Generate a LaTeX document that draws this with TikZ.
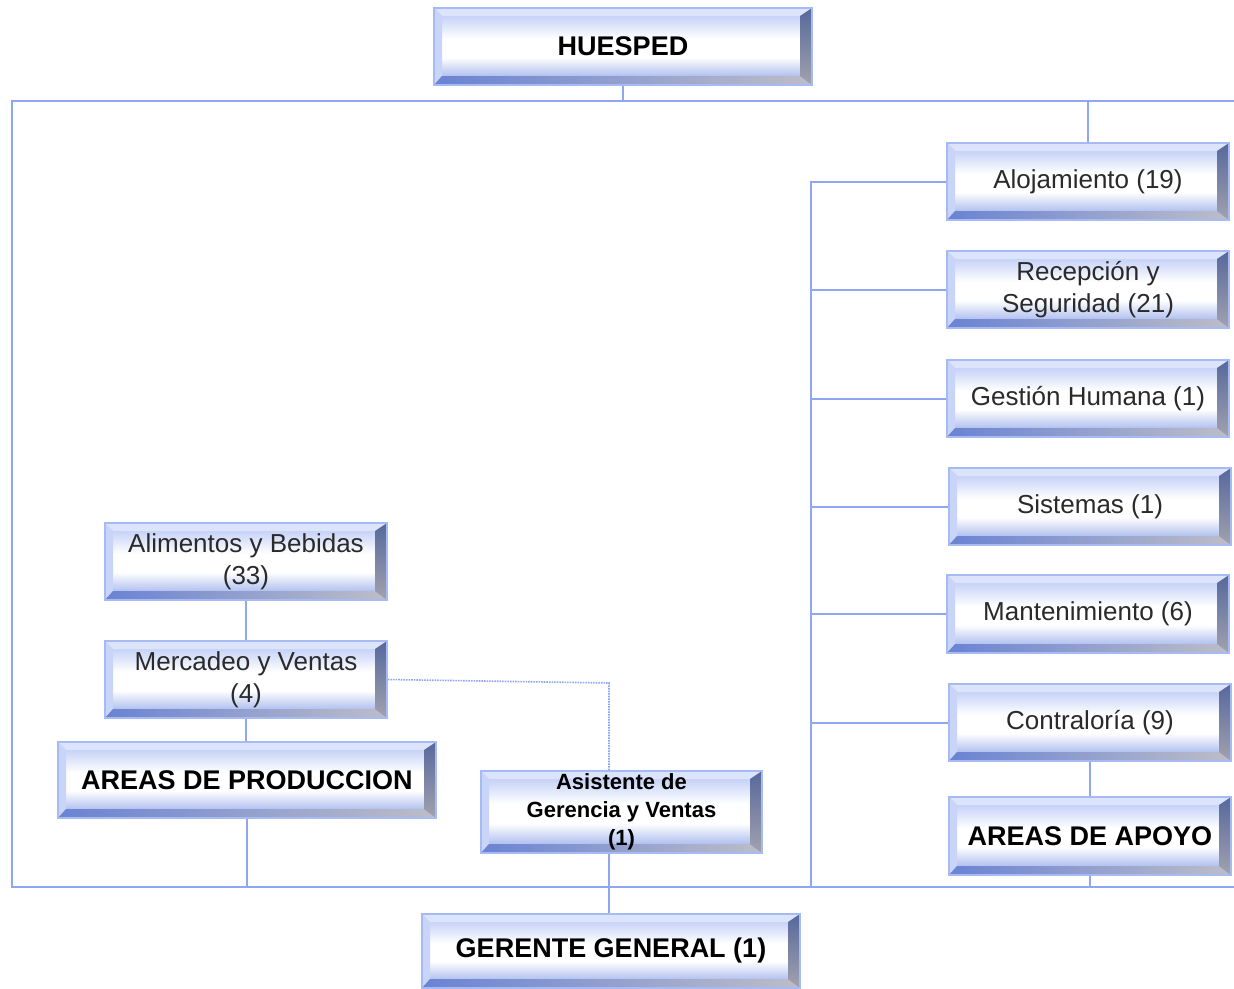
\documentclass[tikz,border=0pt]{standalone}
\usepackage{fontspec}
\setmainfont{Liberation Sans}
\usetikzlibrary{calc}
\definecolor{bord}{HTML}{A6BAF4}
\definecolor{ln}{HTML}{8FA7F2}
\definecolor{txt}{HTML}{2A2A2A}
\definecolor{faceT}{HTML}{B3C3F4}
\definecolor{faceB}{HTML}{8CA3E8}
\definecolor{bevT}{HTML}{DCE4FB}
\definecolor{bevL}{HTML}{C8D4F8}
\definecolor{bevBa}{HTML}{6A83D3}
\definecolor{bevBb}{HTML}{BDBDC8}
\definecolor{bevRa}{HTML}{56689C}
\definecolor{bevRb}{HTML}{A2A2AE}
\pgfdeclareverticalshading{facesh}{100bp}{color(0bp)=(faceB); color(25bp)=(faceB); color(43bp)=(white); color(55bp)=(white); color(75bp)=(faceT); color(100bp)=(faceT)}
\tikzset{
 bx/.style={draw=bord, line width=1.5pt, inner sep=0pt, align=center, text=txt,
  font=\fontsize{26}{32}\selectfont,
  path picture={
   \coordinate (pa) at (path picture bounding box.north west);
   \coordinate (pb) at (path picture bounding box.north east);
   \coordinate (pc) at (path picture bounding box.south east);
   \coordinate (pd) at (path picture bounding box.south west);
   \shade[shading=facesh] (pa) rectangle (pc);
   \fill[bevT] (pa) -- (pb) -- ($(pb)+(-12,8)$) -- ($(pa)+(8,8)$) -- cycle;
   \fill[bevL] (pa) -- ($(pa)+(8,8)$) -- ($(pd)+(8,-9)$) -- (pd) -- cycle;
   \shade[left color=bevBa, right color=bevBb] (pd) -- ($(pd)+(8,-9)$) -- ($(pc)+(-12,-9)$) -- (pc) -- cycle;
   \shade[top color=bevRa, bottom color=bevRb] (pb) -- (pc) -- ($(pc)+(-12,-9)$) -- ($(pb)+(-12,8)$) -- cycle;
  }},
 bxb/.style={bx, font=\bfseries\fontsize{27}{32}\selectfont, text=black},
 conn/.style={draw=ln, line width=2pt},
 dconn/.style={draw=ln, line width=1.6pt, densely dotted},
}
\begin{document}
\begin{tikzpicture}[x=1pt,y=-1pt]
\useasboundingbox (0,0) rectangle (1234,988);
% boxes
\node[bxb, minimum width=378pt, minimum height=77pt] (hue) at (623,46.5) {HUESPED};
\node[bx, minimum width=282pt, minimum height=77pt] (aloj) at (1088,181.5) {Alojamiento (19)};
\node[bx, minimum width=282pt, minimum height=77pt] (recep) at (1088,289.5) {Recepción y\\Seguridad (21)};
\node[bx, minimum width=282pt, minimum height=77pt] (gest) at (1088,398.5) {Gestión Humana (1)};
\node[bx, minimum width=282pt, minimum height=77pt] (sist) at (1090,506.5) {Sistemas (1)};
\node[bx, minimum width=282pt, minimum height=78pt] (mant) at (1088,614) {Mantenimiento (6)};
\node[bx, minimum width=282pt, minimum height=77pt] (contra) at (1090,722.5) {Contraloría (9)};
\node[bxb, minimum width=282pt, minimum height=78pt] (apoyo) at (1090,836) {AREAS DE APOYO};
\node[bx, minimum width=282pt, minimum height=77pt] (alim) at (246,561.5) {Alimentos y Bebidas\\(33)};
\node[bx, minimum width=282pt, minimum height=77pt] (merc) at (246,679.5) {Mercadeo y Ventas\\(4)};
\node[bxb, minimum width=378pt, minimum height=76pt] (prod) at (247,780) {AREAS DE PRODUCCION};
\node[bxb, minimum width=281pt, minimum height=82pt, font=\bfseries\fontsize{22}{28}\selectfont] (asis) at (621.5,812) {Asistente de\\Gerencia y Ventas\\(1)};
\node[bxb, minimum width=378pt, minimum height=74pt] (ger) at (611,951) {GERENTE GENERAL (1)};
% frame coordinates
\coordinate (tl) at (12,101);
\coordinate (tr) at (1234,101);
\coordinate (bl) at (12,887);
\coordinate (br) at (1234,887);
\coordinate (bus) at (811,181);
\coordinate (dv) at (609,683);
% connectors
\draw[conn] (tr) -- (tl) -- (bl) -- (br);
\draw[conn] (hue.south) -- (hue.south |- tl);
\draw[conn] (aloj.north) -- (aloj.north |- tl);
\draw[conn] (bus) -- (bus |- bl);
\draw[conn] (aloj.west -| bus) -- (aloj.west);
\draw[conn] (recep.west -| bus) -- (recep.west);
\draw[conn] (gest.west -| bus) -- (gest.west);
\draw[conn] (sist.west -| bus) -- (sist.west);
\draw[conn] (mant.west -| bus) -- (mant.west);
\draw[conn] (contra.west -| bus) -- (contra.west);
\draw[conn] (contra.south) -- (apoyo.north);
\draw[conn] (apoyo.south) -- (apoyo.south |- bl);
\draw[conn] (alim.south) -- (merc.north);
\draw[conn] (merc.south) -- (merc.south |- prod.north);
\draw[conn] (prod.south) -- (prod.south |- bl);
\draw[dconn] (merc.east) -- (dv) -- (dv |- asis.north);
\draw[conn] (dv |- asis.south) -- (dv |- ger.north);
\end{tikzpicture}
\end{document}
